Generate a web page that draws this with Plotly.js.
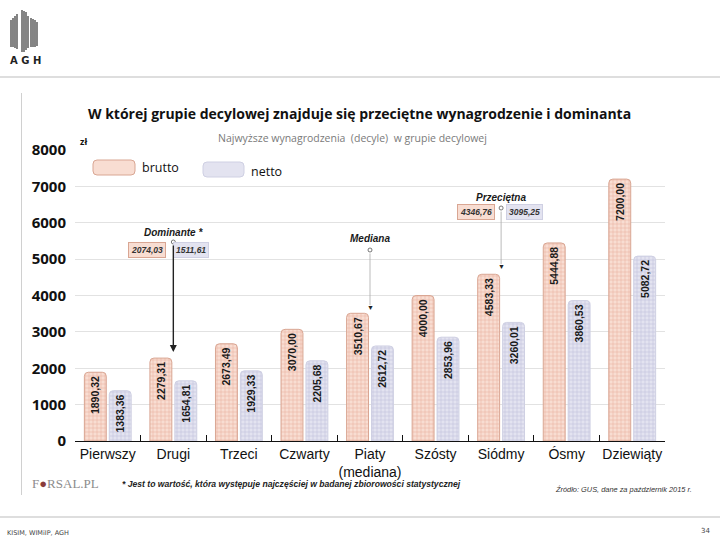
<!DOCTYPE html>
<html>
<head>
<meta charset="utf-8">
<script src="https://cdn.plot.ly/plotly-3.0.1.min.js"></script>
<style>html,body{margin:0;padding:0;background:#fff;}#chart{width:720px;height:540px;}</style>
</head>
<body>
<div id="chart"></div>
<script>
// ---- data ----
const categories = ['Pierwszy','Drugi','Trzeci','Czwarty','Piaty','Szósty','Siódmy','Ósmy','Dziewiąty'];
const tickLabels = ['Pierwszy','Drugi','Trzeci','Czwarty','Piaty<br>(mediana)','Szósty','Siódmy','Ósmy','Dziewiąty'];
const brutto = [1890.32, 2279.31, 2673.49, 3070.00, 3510.67, 4000.00, 4583.33, 5444.88, 7200.00];
const netto  = [1383.36, 1654.81, 1929.33, 2205.68, 2612.72, 2853.96, 3260.01, 3860.53, 5082.72];
const dominantValues = [2074.03, 1511.61];   // brutto, netto
const averageValues  = [4346.76, 3095.25];   // brutto, netto
const yTicks = [0,1000,2000,3000,4000,5000,6000,7000,8000];

const fmt = v => v.toFixed(2).replace('.', ',');

// ---- geometry helpers (plot area: x 75..665 px, y 150..441 px) ----
const L = 75, R = 665, T = 150, B = 441;
const px = x => (x - L) / (R - L);
const py = y => (B - y) / (B - T);

const bruttoFill = '#f8ddd2', bruttoLine = '#d9a693', bruttoFg = '#e6b09c';
const nettoFill = '#e3e3f0', nettoLine = '#cfd0e3', nettoFg = '#bdbed8';

const barText = {family: 'Liberation Sans, Arial, sans-serif', size: 10.5, color: '#1a1a1a', weight: 'bold'};

const traces = [
  {
    type: 'bar', name: 'brutto', x: categories, y: brutto,
    text: brutto.map(fmt), textposition: 'inside', insidetextanchor: 'end', textangle: -90,
    textfont: barText, cliponaxis: false,
    marker: {color: bruttoFill, line: {color: bruttoLine, width: 1}, cornerradius: 4,
      pattern: {shape: '+', size: 4, solidity: 0.25, fgcolor: bruttoFg, bgcolor: bruttoFill}},
    hoverinfo: 'skip'
  },
  {
    type: 'bar', name: 'netto', x: categories, y: netto,
    text: netto.map(fmt), textposition: 'inside', insidetextanchor: 'end', textangle: -90,
    textfont: barText, cliponaxis: false,
    marker: {color: nettoFill, line: {color: nettoLine, width: 1}, cornerradius: 4,
      pattern: {shape: '+', size: 4, solidity: 0.25, fgcolor: nettoFg, bgcolor: nettoFill}},
    hoverinfo: 'skip'
  }
];

const ann = [];
const shapes = [];
function txt(x, y, text, font, extra) {
  ann.push(Object.assign({xref: 'paper', yref: 'paper', x: px(x), y: py(y), text: text,
    showarrow: false, font: font, xanchor: 'center', yanchor: 'middle'}, extra || {}));
}

// title & subtitle
txt(359, 113, 'W której grupie decylowej znajduje się przeciętne wynagrodzenie i dominanta',
  {family: 'Open Sans, sans-serif', size: 14, color: '#111', weight: 'bold'});
txt(352, 138, 'Najwyższe wynagrodzenia&nbsp;&nbsp;(decyle)&nbsp;&nbsp;w grupie decylowej',
  {family: 'Open Sans, sans-serif', size: 10.5, color: '#7a7a7a'});
txt(83, 141, 'zł', {family: 'Open Sans, sans-serif', size: 9, color: '#111', weight: 'bold'});

// legend
function rrect(x0, y0, x1, y1, r, fill, line) {
  const p = `M${px(x0+r)},${py(y0)} L${px(x1-r)},${py(y0)} Q${px(x1)},${py(y0)} ${px(x1)},${py(y0+r)} L${px(x1)},${py(y1-r)} Q${px(x1)},${py(y1)} ${px(x1-r)},${py(y1)} L${px(x0+r)},${py(y1)} Q${px(x0)},${py(y1)} ${px(x0)},${py(y1-r)} L${px(x0)},${py(y0+r)} Q${px(x0)},${py(y0)} ${px(x0+r)},${py(y0)} Z`;
  shapes.push({type: 'path', xref: 'paper', yref: 'paper', path: p, fillcolor: fill, line: {color: line, width: 1}});
}
rrect(93, 160, 135, 175, 4, bruttoFill, bruttoLine);
rrect(203, 162, 244, 177, 4, nettoFill, nettoLine);
txt(140, 167, 'brutto', {family: 'Open Sans, sans-serif', size: 12.5, color: '#111'}, {xanchor: 'left'});
txt(249, 171, 'netto', {family: 'Open Sans, sans-serif', size: 12.5, color: '#111'}, {xanchor: 'left'});

// markers: Dominanta, Mediana, Przeciętna
const labFont = {family: 'Liberation Sans, Arial, sans-serif', size: 10, color: '#1a1a1a', weight: 'bold', style: 'italic'};
const boxFont = {family: 'Liberation Sans, Arial, sans-serif', size: 8.5, color: '#333', weight: 'bold', style: 'italic'};
function dataY(p) { return (B - p) / (B - T) * 8000; }
function dot(ci, y) {
  shapes.push({type: 'circle', xref: 'x', yref: 'y', xsizemode: 'pixel', ysizemode: 'pixel',
    xanchor: ci, yanchor: dataY(y), x0: -2, x1: 2, y0: -2, y1: 2,
    fillcolor: '#fff', line: {color: '#555', width: 0.8}});
}
function box(ci, xshift, y, value, fill, line) {
  ann.push({xref: 'x', yref: 'y', x: categories[ci], y: dataY(y), xshift: xshift, text: fmt(value),
    showarrow: false, font: boxFont, bgcolor: fill, bordercolor: line, borderwidth: 1, borderpad: 2});
}
function label(ci, xshift, y, text) {
  ann.push({xref: 'x', yref: 'y', x: categories[ci], y: dataY(y), xshift: xshift, text: text,
    showarrow: false, font: labFont});
}
// Dominanta (Drugi)
label(1, 0, 232, 'Dominante *');
box(1, -26, 250, dominantValues[0], bruttoFill, bruttoLine);
box(1, 18, 250, dominantValues[1], nettoFill, nettoLine);
ann.push({xref: 'x', yref: 'y', x: categories[1], y: dataY(352), ax: 0, ay: -(352 - 244), text: '',
  showarrow: true, arrowhead: 2, arrowsize: 1, arrowwidth: 1.4, arrowcolor: '#222'});
dot(1, 242);
// Mediana (Piaty)
label(4, 0, 238, 'Mediana');
ann.push({xref: 'x', yref: 'y', x: categories[4], y: dataY(305), ax: 0, ay: -(305 - 252), text: '',
  showarrow: true, arrowhead: 0, arrowwidth: 0.8, arrowcolor: '#aaa'});
ann.push({xref: 'x', yref: 'y', x: categories[4], y: dataY(307), text: '▼', showarrow: false,
  font: {size: 7, color: '#222'}});
dot(4, 250);
// Przeciętna (Siódmy)
label(6, 0, 197, 'Przeciętna');
box(6, -25, 212, averageValues[0], bruttoFill, bruttoLine);
box(6, 23, 212, averageValues[1], nettoFill, nettoLine);
ann.push({xref: 'x', yref: 'y', x: categories[6], y: dataY(264), ax: 0, ay: -(264 - 210), text: '',
  showarrow: true, arrowhead: 0, arrowwidth: 0.8, arrowcolor: '#aaa'});
ann.push({xref: 'x', yref: 'y', x: categories[6], y: dataY(266), text: '▼', showarrow: false,
  font: {size: 7, color: '#222'}});
dot(6, 208);

// footer of the chart image
txt(30, 483, 'F<span style="color:#8a3b3b">●</span>RSAL.PL', {family: 'Liberation Serif, serif', size: 13, color: '#8c8c8c'}, {xanchor: 'left'});
txt(120, 484, '* Jest to wartość, która występuje najczęściej w badanej zbiorowości statystycznej',
  {family: 'Liberation Sans, Arial, sans-serif', size: 8.6, color: '#222', weight: 'bold', style: 'italic'}, {xanchor: 'left'});
txt(553, 489, 'Źródło: GUS, dane za październik 2015 r.',
  {family: 'Liberation Sans Narrow, Arial, sans-serif', size: 7.4, color: '#333', style: 'italic'}, {xanchor: 'left'});

// slide elements
txt(5, 533, 'KISIM, WIMiIP, AGH', {family: 'DejaVu Sans, sans-serif', size: 6.5, color: '#444'}, {xanchor: 'left'});
txt(712, 531, '34', {family: 'DejaVu Sans, sans-serif', size: 7, color: '#444'}, {xanchor: 'right'});
txt(25, 60, 'A G H', {family: 'DejaVu Sans, sans-serif', size: 10, color: '#222', weight: 'bold'});

function line(x0, y0, x1, y1, color, w) {
  shapes.push({type: 'line', xref: 'paper', yref: 'paper', x0: px(x0), y0: py(y0), x1: px(x1), y1: py(y1),
    line: {color: color, width: w}});
}
line(0, 77, 720, 77, '#bdbdbd', 1);
line(0, 517, 720, 517, '#bdbdbd', 1);
line(21.5, 93, 21.5, 495, '#d0d0d0', 1);
// AGH logo stripes
[[11,20,47],[13,18,47],[15,16,48],[17,14,49],[22,10,52],[24,11,52],[26,12,50],[28,16,48],[31,18,47],[33,19,47],[35,20,47],[37,22,46]].forEach(s => line(s[0], s[1], s[0], s[2], '#333', 1.2));

const layout = {
  width: 720, height: 540,
  margin: {l: L, r: 720 - R, t: T, b: 540 - B, pad: 0},
  paper_bgcolor: '#fff', plot_bgcolor: '#fff',
  showlegend: false, barmode: 'group', bargap: 0.24, bargroupgap: 0.12,
  xaxis: {
    type: 'category', tickvals: categories, ticktext: tickLabels, tickangle: 0,
    showline: true, linecolor: '#111', linewidth: 1,
    ticks: 'inside', tickson: 'boundaries', ticklen: 6, tickcolor: '#111', tickwidth: 1,
    tickfont: {family: 'Liberation Sans Narrow, Arial Narrow, sans-serif', size: 14, color: '#111'},
    showgrid: false, zeroline: false, fixedrange: true, automargin: false
  },
  yaxis: {
    range: [0, 8000], tickvals: yTicks, ticks: '', ticklabelstandoff: 8,
    tickfont: {family: 'Open Sans, sans-serif', size: 15, color: '#111', weight: 'bold'},
    showgrid: true, gridcolor: '#e2e2e2', gridwidth: 1, zeroline: false, showline: false, fixedrange: true,
    automargin: false
  },
  annotations: ann,
  shapes: shapes,
  font: {family: 'Open Sans, sans-serif'}
};

Plotly.newPlot('chart', traces, layout, {staticPlot: true, displayModeBar: false});
</script>
</body>
</html>
